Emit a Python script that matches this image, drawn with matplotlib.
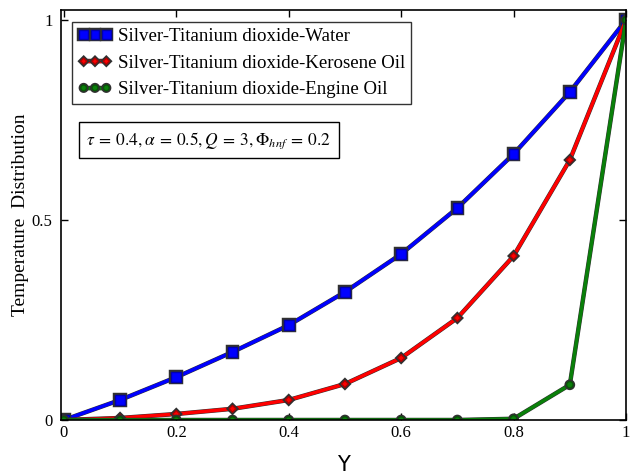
import numpy as np
import matplotlib
matplotlib.use("Agg")
import matplotlib.pyplot as plt
import matplotlib.patheffects as pe


# ==================================================
# data
# ==================================================

y_pos = [0.0, 0.1, 0.2, 0.3, 0.4, 0.5, 0.6, 0.7, 0.8, 0.9, 1.0]

water = [0.0, 0.05, 0.107, 0.17, 0.237, 0.32, 0.415, 0.53, 0.665, 0.82, 1.0]
kerosene = [0.0, 0.005, 0.015, 0.028, 0.05, 0.09, 0.155, 0.255, 0.41, 0.65, 1.0]
engine = [0.0, 0.0, 0.0, 0.0, 0.0, 0.0, 0.0, 0.0, 0.003, 0.088, 1.0]

labels = [
    "Silver-Titanium dioxide-Water",
    "Silver-Titanium dioxide-Kerosene Oil",
    "Silver-Titanium dioxide-Engine Oil",
]

xticks = [0, 0.2, 0.4, 0.6, 0.8, 1]
xticklabels = ["0", "0.2", "0.4", "0.6", "0.8", "1"]
yticks = [0, 0.5, 1]
yticklabels = ["0", "0.5", "1"]


# ==================================================
# plot
# ==================================================

plt.rcParams["font.family"] = ["Liberation Serif", "DejaVu Serif"]
plt.rcParams["mathtext.fontset"] = "stix"

fig = plt.figure(figsize=(6.33, 4.75), dpi=100)
ax = fig.add_axes([0.0964, 0.1158, 0.8926, 0.8632])

outline = [pe.Stroke(linewidth=3.2, foreground="#303030"), pe.Normal()]

ax.plot(
    y_pos, water,
    color="#0000ff", lw=2.5, marker="s", ms=7,
    mec="#0000b0", label=labels[0], path_effects=outline
)
ax.plot(
    y_pos, kerosene,
    color="#ff0000", lw=2.5, marker="D", ms=3.5,
    mec="#b00000", label=labels[1], path_effects=outline
)
ax.plot(
    y_pos, engine,
    color="#0a800a", lw=2.5, marker="o", ms=4.5,
    mec="#065806", label=labels[2], path_effects=outline
)

ax.set_xlim(-0.005, 1.0)
ax.set_ylim(0, 1.025)

ax.set_xticks(xticks)
ax.set_xticklabels(xticklabels)
ax.set_yticks(yticks)
ax.set_yticklabels(yticklabels)

ax.tick_params(
    direction="in", length=5, width=1,
    top=True, right=True, labelsize=12
)
ax.tick_params(axis="y", pad=6)

for sp in ax.spines.values():
    sp.set_linewidth(1.2)

ax.set_xlabel("Y", fontsize=15, family="DejaVu Sans", labelpad=10)
ax.set_ylabel("Temperature  Distribution", fontsize=14, labelpad=2)

leg = ax.legend(
    loc="upper left",
    bbox_to_anchor=(0.02, 0.97),
    fontsize=13.6,
    frameon=True,
    fancybox=False,
    edgecolor="black",
    numpoints=3,
    markerscale=0.9,
    handlelength=1.8,
    handletextpad=0.3,
    borderpad=0.3,
    labelspacing=0.5,
    borderaxespad=0,
)
leg.get_frame().set_linewidth(1.0)

ax.text(
    0.045, 0.657,
    r"$\tau\:=\:0.4,\alpha\:=\:0.5,Q\:=\:3,\mathit{\Phi}_{hnf}\:=\:0.2$",
    transform=ax.transAxes,
    fontsize=12.5,
    va="bottom",
    bbox=dict(boxstyle="square,pad=0.45", fc="white", ec="black", lw=1.0),
)

fig.savefig("out.png", dpi=100)
plt.close()
